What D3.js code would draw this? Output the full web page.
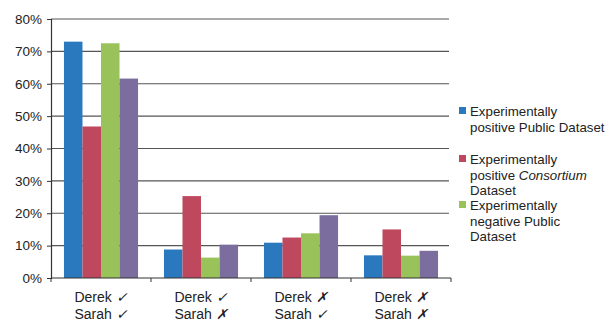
<!DOCTYPE html>
<html>
<head>
<meta charset="utf-8">
<script src="https://cdn.jsdelivr.net/npm/d3@7"></script>
<style>
  body { margin: 0; background: #fff; }
  text { font-family: "Liberation Sans", Arial, sans-serif; fill: #222; }
</style>
</head>
<body>
<svg id="chart" width="610" height="323"></svg>
<script>
// data
const categories = ["g1", "g2", "g3", "g4"];
const derekMarks = ["✓", "✓", "✗", "✗"];
const sarahMarks = ["✓", "✗", "✓", "✗"];
const seriesNames = ["pubPos", "consPos", "pubNeg", "other"];
const seriesColors = ["#2a78be", "#be485e", "#9ac25a", "#7b6e9f"];
const values = [
  [73.0, 46.8, 72.5, 61.6],
  [8.8, 25.3, 6.3, 10.3],
  [10.9, 12.5, 13.8, 19.4],
  [7.0, 15.0, 6.9, 8.4]
];
const yTicks = [0, 10, 20, 30, 40, 50, 60, 70, 80];
const legendItems = [
  {color: 0, lines: [["Experimentally"], ["positive Public Dataset"]]},
  {color: 1, lines: [["Experimentally"], ["positive ", ["Consortium"]], ["Dataset"]]},
  {color: 2, lines: [["Experimentally"], ["negative Public"], ["Dataset"]]}
];

const svg = d3.select("#chart");
const margin = {top: 19, left: 51};
const plotW = 400, plotH = 259;

const x = d3.scaleBand().domain(categories).range([margin.left, margin.left + plotW]);
const x1 = d3.scaleBand().domain(seriesNames).range([0, x.bandwidth()]).paddingOuter(0.7);
const y = d3.scaleLinear().domain([0, 80]).range([margin.top + plotH, margin.top]);

// gridlines
svg.append("g").selectAll("line")
  .data(yTicks.filter(d => d > 0))
  .enter().append("line")
    .attr("x1", margin.left).attr("x2", margin.left + plotW - 2)
    .attr("y1", d => y(d)).attr("y2", d => y(d))
    .style("stroke", "#555").style("stroke-width", 1.2);

// bars
const groups = svg.append("g").selectAll("g")
  .data(values)
  .enter().append("g")
    .attr("transform", (d, i) => `translate(${x(categories[i])},0)`);
groups.selectAll("rect")
  .data(d => d.map((v, j) => ({v, j})))
  .enter().append("rect")
    .attr("x", d => x1(seriesNames[d.j]))
    .attr("width", x1.bandwidth())
    .attr("y", d => y(d.v))
    .attr("height", d => y(0) - y(d.v))
    .style("fill", d => seriesColors[d.j]);

// y axis
const yAxis = svg.append("g")
  .attr("transform", `translate(${margin.left},0)`)
  .call(d3.axisLeft(y).tickValues(yTicks).tickFormat(d => d + "%").tickSize(4).tickPadding(5));
yAxis.select(".domain").style("stroke", "#333").style("stroke-width", 1.2);
yAxis.selectAll(".tick line").style("stroke", "#333");
yAxis.selectAll("text").style("font-size", "13.5px").style("fill", "#222")
  .style("font-family", "'Liberation Sans', Arial, sans-serif");

// x axis line + ticks at boundaries
svg.append("line")
  .attr("x1", margin.left).attr("x2", margin.left + plotW)
  .attr("y1", y(0)).attr("y2", y(0))
  .style("stroke", "#333").style("stroke-width", 1.2);
svg.append("g").selectAll("line")
  .data(categories.concat(["end"]))
  .enter().append("line")
    .attr("x1", (d, i) => i < categories.length ? x(d) : x(categories[i - 1]) + x.bandwidth())
    .attr("x2", (d, i) => i < categories.length ? x(d) : x(categories[i - 1]) + x.bandwidth())
    .attr("y1", y(0)).attr("y2", y(0) + 4)
    .style("stroke", "#333");

// category labels
const lab = svg.append("g").selectAll("g")
  .data(categories)
  .enter().append("g")
    .attr("transform", d => `translate(${x(d) + x.bandwidth() / 2},0)`);
const l1 = lab.append("text")
  .attr("y", y(0) + 24).attr("text-anchor", "middle").style("font-size", "14px");
l1.append("tspan").text("Derek ");
l1.append("tspan").style("font-style", "italic").text((d, i) => derekMarks[i]);
const l2 = lab.append("text")
  .attr("y", y(0) + 41).attr("text-anchor", "middle").style("font-size", "14px");
l2.append("tspan").text("Sarah ");
l2.append("tspan").style("font-style", "italic").text((d, i) => sarahMarks[i]);

// legend
const legendTop = [111, 159, 205];
const lg = svg.append("g").selectAll("g")
  .data(legendItems)
  .enter().append("g")
    .attr("transform", (d, i) => `translate(459,${legendTop[i]})`);
lg.append("rect")
  .attr("x", 0).attr("y", -4).attr("width", 7).attr("height", 7)
  .style("fill", d => seriesColors[d.color]);
lg.each(function (d) {
  const g = d3.select(this);
  d.lines.forEach((parts, k) => {
    const t = g.append("text")
      .attr("x", 11).attr("y", k * 15.5 + 5)
      .style("font-size", "13.3px");
    parts.forEach(p => {
      if (Array.isArray(p)) t.append("tspan").style("font-style", "italic").text(p[0]);
      else t.append("tspan").text(p);
    });
  });
});
</script>
</body>
</html>
